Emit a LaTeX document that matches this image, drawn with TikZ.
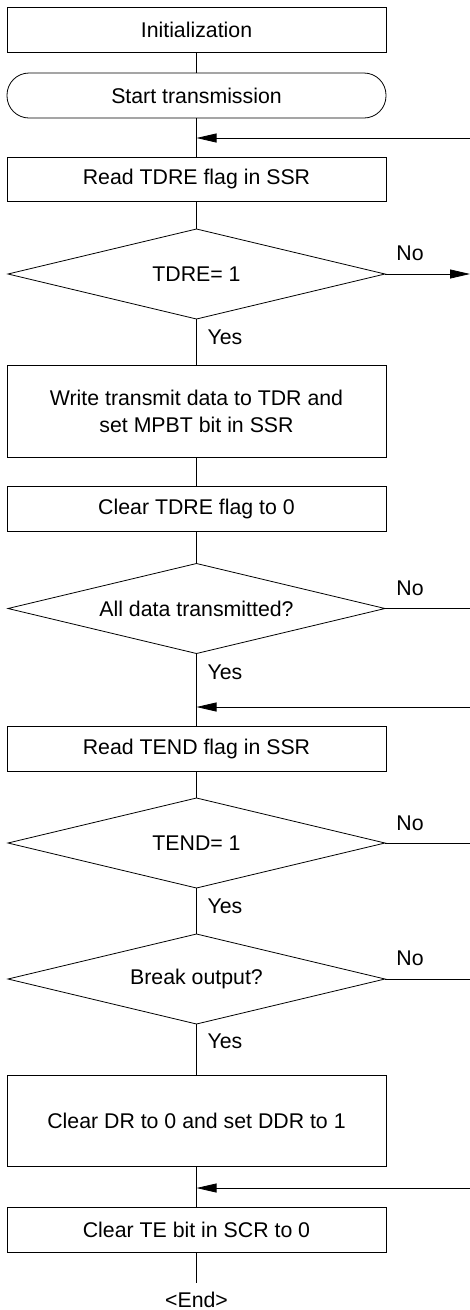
\documentclass[tikz,border=0pt]{standalone}
\usepackage{fontspec}
\setmainfont{Liberation Sans}
\usetikzlibrary{shapes.geometric,arrows.meta}
\begin{document}
\begin{tikzpicture}[x=1pt,y=-1pt,
  every node/.style={font=\fontsize{21.3}{27}\selectfont, outer sep=0pt},
  box/.style={draw, line width=0.8pt, minimum width=379pt, minimum height=45pt, inner sep=0pt, align=center},
  term/.style={box, rounded corners=22pt},
  dec/.style={draw, line width=0.8pt, diamond, aspect=4.19, minimum width=377pt, minimum height=90pt, inner sep=0pt},
  conn/.style={line width=0.8pt},
  arr/.style={conn, -{Triangle[length=20pt,width=9pt]}},
  lbl/.style={inner sep=0pt}]
\useasboundingbox (0,0) rectangle (470,1310);
\fill[white] (0,0) rectangle (470,1310);

\node[box] (init) at (196.5,29.5) {Initialization};
\node[term] (start) at (196.5,95.5) {Start transmission};
\coordinate (j1) at (196.5,138);
\coordinate (r1) at (470,138);
\node[box, minimum height=44pt] (rtdre) at (196.5,179) {Read TDRE flag in SSR};
\node[dec] (d1) at (196.5,274) {TDRE= 1};
\coordinate (o1) at (470,274);
\node[box, minimum height=92pt] (wr) at (196.5,411) {Write transmit data to TDR and\\set MPBT bit in SSR};
\node[box] (clr) at (196.5,508.5) {Clear TDRE flag to 0};
\node[dec] (d2) at (196.5,608.5) {All data transmitted?};
\coordinate (o2) at (470,608.5);
\coordinate (j2) at (196.5,707);
\coordinate (r2) at (470,707);
\node[box] (rtend) at (196.5,748.5) {Read TEND flag in SSR};
\node[dec] (d3) at (196.5,843) {TEND= 1};
\coordinate (o3) at (470,843);
\node[dec] (d4) at (196.5,979) {Break output?};
\coordinate (o4) at (470,979);
\node[box, minimum height=91pt] (cdr) at (196.5,1120.5) {Clear DR to 0 and set DDR to 1};
\coordinate (j3) at (196.5,1188);
\coordinate (r3) at (470,1188);
\node[box] (cte) at (196.5,1229.5) {Clear TE bit in SCR to 0};
\node[anchor=north, inner xsep=0pt, inner ysep=9pt] (fin) at (196.5,1283) {<End>};

% labels
\node[lbl] (no1) at (410,253) {No};
\node[lbl] (no2) at (410,588) {No};
\node[lbl] (no3) at (410,823) {No};
\node[lbl] (no4) at (410,958) {No};
\node[lbl] (y1) at (225,337) {Yes};
\node[lbl] (y2) at (225,672) {Yes};
\node[lbl] (y3) at (225,906) {Yes};
\node[lbl] (y4) at (225,1041) {Yes};

% vertical flow
\draw[conn] (init) -- (start);
\draw[conn] (start) -- (rtdre);
\draw[conn] (rtdre) -- (d1);
\draw[conn] (d1) -- (wr);
\draw[conn] (wr) -- (clr);
\draw[conn] (clr) -- (d2);
\draw[conn] (d2) -- (rtend);
\draw[conn] (rtend) -- (d3);
\draw[conn] (d3) -- (d4);
\draw[conn] (d4) -- (cdr);
\draw[conn] (cdr) -- (cte);
\draw[conn] (cte) -- (fin);

% side connectors
\draw[arr] (r1) -- (j1);
\draw[arr] (d1.east) -- (o1);
\draw[conn] (d2.east) -- (o2);
\draw[arr] (r2) -- (j2);
\draw[conn] (d3.east) -- (o3);
\draw[conn] (d4.east) -- (o4);
\draw[arr] (r3) -- (j3);
\end{tikzpicture}
\end{document}
